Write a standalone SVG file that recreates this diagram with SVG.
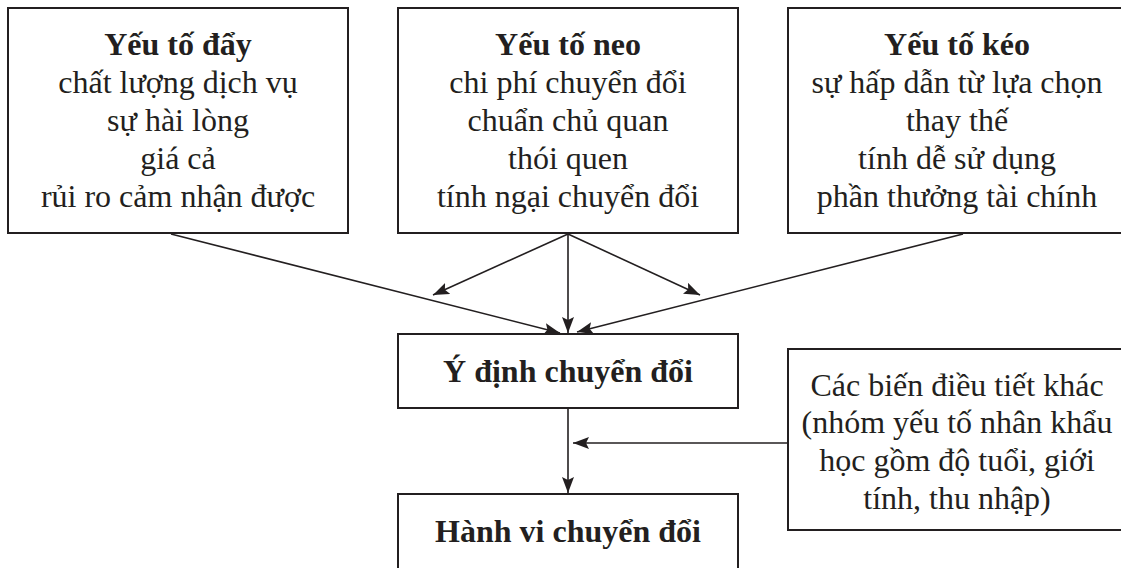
<svg xmlns="http://www.w3.org/2000/svg" width="1121" height="568" viewBox="0 0 1121 568">
<style>
.box{fill:#fff;stroke:#231f20;stroke-width:2}
.t{font-family:"Liberation Serif","Times New Roman",serif;font-size:32px;fill:#231f20;text-anchor:middle}
.b{font-weight:bold}
.c{stroke:#231f20;stroke-width:1.6;fill:none;marker-end:url(#ah)}
</style>
<defs>
<marker id="ah" markerUnits="userSpaceOnUse" markerWidth="18" markerHeight="12" refX="16" refY="6" orient="auto">
<path d="M0,0 L16,6 L0,12 L3,6 z" fill="#231f20"/>
</marker>
</defs>
<rect width="1121" height="568" fill="#fff"/>
<g id="connectors">
<line class="c" x1="171" y1="234" x2="560" y2="333"/>
<line class="c" x1="963" y1="234" x2="577" y2="332"/>
<line class="c" x1="568" y1="234" x2="568" y2="333"/>
<line class="c" x1="568" y1="234" x2="433" y2="295"/>
<line class="c" x1="568" y1="234" x2="700" y2="295"/>
<line class="c" x1="568" y1="408" x2="568" y2="493"/>
<line class="c" x1="788" y1="443" x2="573" y2="443"/>
</g>
<g id="push">
<rect class="box" x="8" y="8" width="340" height="225"/>
<text class="t b" x="178" y="55">Yếu tố đẩy</text>
<text class="t" x="178" y="93">chất lượng dịch vụ</text>
<text class="t" x="178" y="131">sự hài lòng</text>
<text class="t" x="178" y="169">giá cả</text>
<text class="t" x="178" y="207">rủi ro cảm nhận được</text>
</g>
<g id="mooring">
<rect class="box" x="398" y="8" width="340" height="225"/>
<text class="t b" x="568" y="55">Yếu tố neo</text>
<text class="t" x="568" y="93">chi phí chuyển đổi</text>
<text class="t" x="568" y="131">chuẩn chủ quan</text>
<text class="t" x="568" y="169">thói quen</text>
<text class="t" x="568" y="207">tính ngại chuyển đổi</text>
</g>
<g id="pull">
<rect class="box" x="788" y="8" width="340" height="225"/>
<text class="t b" x="957" y="55">Yếu tố kéo</text>
<text class="t" x="957" y="93">sự hấp dẫn từ lựa chọn</text>
<text class="t" x="957" y="131">thay thế</text>
<text class="t" x="957" y="169">tính dễ sử dụng</text>
<text class="t" x="957" y="207">phần thưởng tài chính</text>
</g>
<g id="intention">
<rect class="box" x="398" y="334" width="340" height="74"/>
<text class="t b" x="568" y="382">Ý định chuyển đổi</text>
</g>
<g id="behavior">
<rect class="box" x="398" y="494" width="340" height="90"/>
<text class="t b" x="568" y="542">Hành vi chuyển đổi</text>
</g>
<g id="moderators">
<rect class="box" x="788" y="349" width="340" height="181"/>
<text class="t" x="957" y="396">Các biến điều tiết khác</text>
<text class="t" x="957" y="433">(nhóm yếu tố nhân khẩu</text>
<text class="t" x="957" y="471">học gồm độ tuổi, giới</text>
<text class="t" x="957" y="509">tính, thu nhập)</text>
</g>
</svg>
